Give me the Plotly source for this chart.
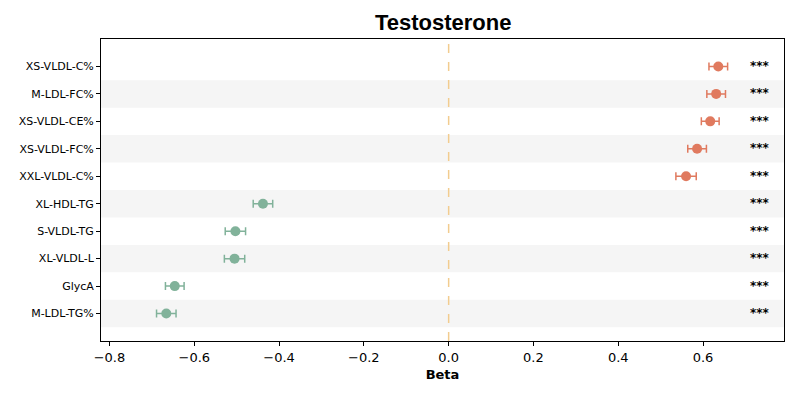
import plotly.graph_objects as go

# Metabolites, top to bottom as shown
labels = ['XS-VLDL-C%', 'M-LDL-FC%', 'XS-VLDL-CE%', 'XS-VLDL-FC%', 'XXL-VLDL-C%',
          'XL-HDL-TG', 'S-VLDL-TG', 'XL-VLDL-L', 'GlycA', 'M-LDL-TG%']
beta = [0.636, 0.631, 0.617, 0.586, 0.560, -0.438, -0.503, -0.505, -0.646, -0.666]
ci_half = [0.022, 0.022, 0.021, 0.022, 0.024, 0.023, 0.024, 0.024, 0.022, 0.023]
stars = ['***'] * 10

POS = '#E07A5F'
NEG = '#81B29A'

n = len(labels)
ypos = [n - 1 - i for i in range(n)]

fig = go.Figure()

for sign, col in [(1, POS), (-1, NEG)]:
    idx = [i for i in range(n) if (beta[i] > 0) == (sign > 0)]
    fig.add_trace(go.Scatter(
        x=[beta[i] for i in idx], y=[ypos[i] for i in idx],
        mode='markers',
        marker=dict(color=col, size=10),
        error_x=dict(type='data', array=[ci_half[i] for i in idx],
                     color=col, thickness=1.5, width=4),
        showlegend=False, hoverinfo='x+y'))

# alternating row shading
shapes = []
for k in range(0, n, 2):
    shapes.append(dict(type='rect', xref='paper', yref='y', x0=0, x1=1,
                       y0=k - 0.5, y1=k + 0.5, fillcolor='#F5F5F5',
                       line=dict(width=0), layer='below'))
shapes.append(dict(type='line', xref='x', yref='paper', x0=0, x1=0, y0=0, y1=1,
                   line=dict(color='#F2CC8F', width=1.5, dash='dash'), layer='below'))

annotations = [dict(x=0.735, y=ypos[i] + 0.02, xref='x', yref='y', text='<b>' + stars[i] + '</b>',
                    showarrow=False, font=dict(family='DejaVu Sans', size=12, color='black'))
               for i in range(n)]

fig.update_layout(
    width=800, height=400,
    margin=dict(l=93, r=24, t=31, b=67),
    plot_bgcolor='white', paper_bgcolor='white',
    title=dict(text='<b>Testosterone</b>', x=0.544, xanchor='center',
               y=0.965, yanchor='middle',
               font=dict(family='Liberation Sans', size=22, color='black')),
    shapes=shapes, annotations=annotations,
    xaxis=dict(range=[-0.820, 0.791], tickvals=[-0.8, -0.6, -0.4, -0.2, 0, 0.2, 0.4, 0.6],
               ticktext=['\u22120.8', '\u22120.6', '\u22120.4', '\u22120.2', '0.0', '0.2', '0.4', '0.6'],
               showgrid=False, zeroline=False, showline=True, linecolor='black', linewidth=1,
               mirror=True, ticks='outside', ticklen=4, tickcolor='black',
               tickfont=dict(family='DejaVu Sans', size=13, color='black'),
               title=dict(text='<b>Beta</b>', standoff=6,
                          font=dict(family='DejaVu Sans', size=13, color='black'))),
    yaxis=dict(range=[-1, 10], tickvals=ypos, ticktext=labels,
               showgrid=False, zeroline=False, showline=True, linecolor='black', linewidth=1,
               mirror=True, ticks='outside', ticklen=4, tickcolor='black',
               tickfont=dict(family='DejaVu Sans', size=11, color='black')),
)

fig.write_html('out.html')
